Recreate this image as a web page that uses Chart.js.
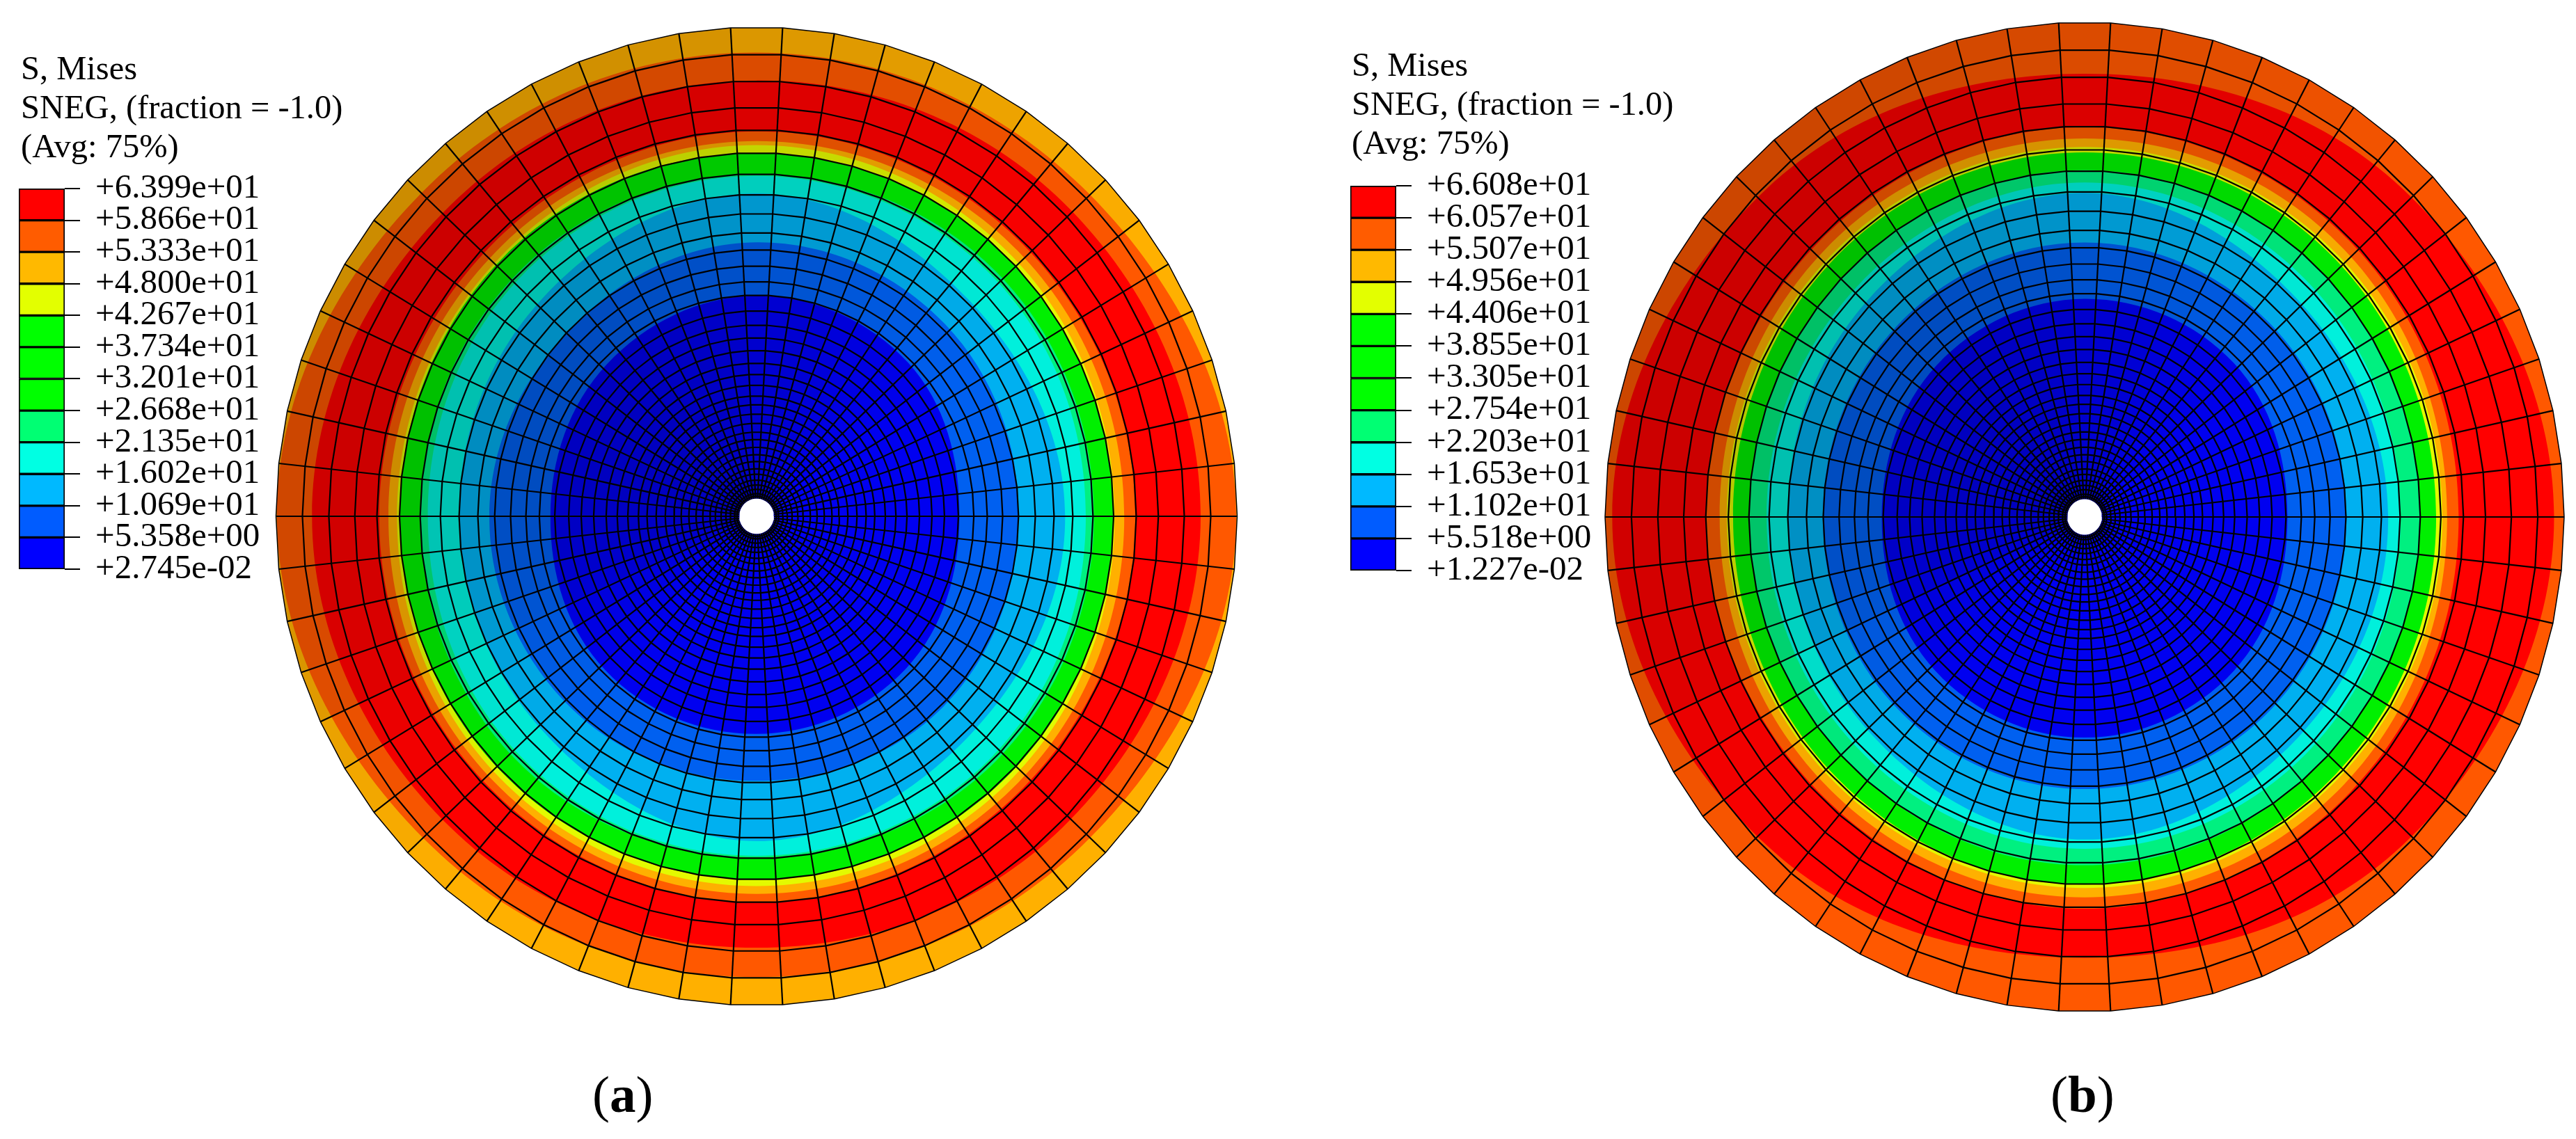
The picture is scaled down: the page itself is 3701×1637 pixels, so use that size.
<!DOCTYPE html>
<html>
<head>
<meta charset="utf-8">
<title>S, Mises contour plots</title>
<script src="https://cdn.jsdelivr.net/npm/chart.js@4"></script>
<style>
    html, body { margin: 0; padding: 0; background: #fff; overflow: hidden; }
    body { width: 3701px; height: 1637px; position: relative; }
    canvas { position: absolute; }
    .txt { position: absolute; font-family: "Liberation Serif", serif; color: #000; white-space: pre; }
    .head { font-size: 48.5px; line-height: 56px; }
    .cap { font-size: 75px; line-height: 75px; }
</style>
</head>
<body>
<canvas id="plotA" width="1410" height="1480" style="left:382px;top:2px"></canvas>
<canvas id="plotB" width="1410" height="1480" style="left:2290px;top:3px"></canvas>
<canvas id="legendA" width="368" height="607" style="left:25px;top:241px"></canvas>
<canvas id="legendB" width="368" height="613" style="left:1938px;top:237px"></canvas>

<div class="txt head" style="left:30px;top:70px">S, Mises
SNEG, (fraction = -1.0)
(Avg: 75%)</div>
<div class="txt head" style="left:1942px;top:65px">S, Mises
SNEG, (fraction = -1.0)
(Avg: 75%)</div>
<div class="txt cap" style="left:851px;top:1535px">(<b>a</b>)</div>
<div class="txt cap" style="left:2946px;top:1535px">(<b>b</b>)</div>

<script>
// Legend levels as printed on the two colour bars
const levelsA = [63.99, 58.66, 53.33, 48.00, 42.67, 37.34, 32.01, 26.68, 21.35, 16.02, 10.69, 5.358, 0.02745];
const labelsA = ['+6.399e+01', '+5.866e+01', '+5.333e+01', '+4.800e+01', '+4.267e+01', '+3.734e+01', '+3.201e+01',
    '+2.668e+01', '+2.135e+01', '+1.602e+01', '+1.069e+01', '+5.358e+00', '+2.745e-02'];
const levelsB = [66.08, 60.57, 55.07, 49.56, 44.06, 38.55, 33.05, 27.54, 22.03, 16.53, 11.02, 5.518, 0.01227];
const labelsB = ['+6.608e+01', '+6.057e+01', '+5.507e+01', '+4.956e+01', '+4.406e+01', '+3.855e+01', '+3.305e+01',
    '+2.754e+01', '+2.203e+01', '+1.653e+01', '+1.102e+01', '+5.518e+00', '+1.227e-02'];
const legendColors = ['#ff0000', '#ff5c00', '#ffb900', '#e3ff00', '#00ff00', '#00ff00', '#00ff00',
    '#00ff73', '#00ffe3', '#00b9ff', '#005cff', '#0000ff'];

// Mesh: ring radii as a fraction of the plate radius, outside to inside
const spokeCount = 58;
const holeRadius = 0.036;
const meshRings = [1, 0.945, 0.890, 0.836, 0.790, 0.743, 0.700, 0.658, 0.619, 0.580, 0.545, 0.512, 0.480, 0.452,
    0.420, 0.391, 0.365, 0.339, 0.313, 0.290, 0.268, 0.246, 0.228, 0.209, 0.190, 0.172, 0.157, 0.141, 0.126,
    0.112, 0.097, 0.086, 0.074, 0.064, 0.055, 0.046, 0.041];

// Darkening of each mesh sector, counter-clockwise from the +x direction
const sectorShade = [0, 0, 0, 0, 0, 0, 0.02, 0.03, 0.05, 0.07, 0.09, 0.11, 0.12, 0.13, 0.14, 0.16, 0.17, 0.18, 0.19, 0.19,
    0.2, 0.2, 0.2, 0.2, 0.2, 0.2, 0.2, 0.2, 0.19, 0.18, 0.17, 0.15, 0.12, 0.08, 0.05, 0.03, 0.01,
    0, 0, 0, 0, 0, 0, 0, 0, 0, 0, 0, 0, 0, 0, 0, 0, 0, 0, 0, 0, 0];

// Contour boundaries read at E, NE, N, NW, W, SW, S, SE (fraction of plate radius)
const boundaryAngles = [0, 45, 90, 135, 180, 225, 270, 315];

const discColorA = '#ffb000';
const bandColorsA = ['#ff5800', '#ff0000', '#ff5c00', '#ffb000', '#e3fa00', '#00f000', '#00f080', '#00f0dc', '#00b0f0', '#0060f0', '#0000f0'];
const bandsA = [
    [0.998, 0.955, 0.948, 0.960, 0.998, 0.955, 0.942, 0.955],
    [0.924, 0.905, 0.891, 0.900, 0.925, 0.900, 0.882, 0.900],
    [0.788, 0.785, 0.787, 0.782, 0.785, 0.785, 0.789, 0.785],
    [0.765, 0.768, 0.767, 0.766, 0.766, 0.770, 0.772, 0.770],
    [0.745, 0.752, 0.759, 0.752, 0.748, 0.756, 0.756, 0.755],
    [0.742, 0.743, 0.742, 0.747, 0.742, 0.745, 0.743, 0.745],
    [0.702, 0.706, 0.699, 0.703, 0.699, 0.706, 0.697, 0.706],
    [0.685, 0.694, 0.696, 0.693, 0.684, 0.694, 0.694, 0.694],
    [0.642, 0.625, 0.660, 0.630, 0.619, 0.625, 0.664, 0.630],
    [0.545, 0.555, 0.560, 0.545, 0.556, 0.550, 0.541, 0.550],
    [0.422, 0.445, 0.451, 0.440, 0.429, 0.445, 0.445, 0.440]
];

const discColorB = '#ff5800';
const bandColorsB = ['#ff0000', '#ff5c00', '#ffb000', '#e3fa00', '#00f000', '#00f080', '#00f0dc', '#00b0f0', '#0060f0', '#0000f0'];
const bandsB = [
    [0.979, 0.938, 0.896, 0.938, 0.985, 0.938, 0.891, 0.938],
    [0.780, 0.785, 0.788, 0.785, 0.789, 0.785, 0.792, 0.785],
    [0.756, 0.765, 0.765, 0.765, 0.761, 0.765, 0.769, 0.765],
    [0.746, 0.748, 0.748, 0.748, 0.746, 0.748, 0.750, 0.748],
    [0.733, 0.738, 0.737, 0.738, 0.733, 0.738, 0.743, 0.738],
    [0.699, 0.700, 0.701, 0.700, 0.699, 0.700, 0.704, 0.700],
    [0.659, 0.665, 0.676, 0.665, 0.663, 0.665, 0.671, 0.665],
    [0.633, 0.625, 0.655, 0.630, 0.619, 0.625, 0.652, 0.630],
    [0.546, 0.550, 0.555, 0.550, 0.546, 0.550, 0.550, 0.550],
    [0.423, 0.440, 0.441, 0.435, 0.423, 0.440, 0.446, 0.440]
];

function polar(r, deg) {
    const a = deg * Math.PI / 180;
    return { x: r * Math.cos(a), y: r * Math.sin(a) };
}

function spokeAngle(k) {
    return k * 360 / spokeCount;
}

// polygon through the spoke nodes of one ring
function ringPoints(r) {
    const pts = [];
    for (let k = 0; k <= spokeCount; k++) pts.push(polar(r, spokeAngle(k)));
    return pts;
}

// closed smooth contour; the ends overlap so the spline has no kink at the seam
function contourPoints(radii) {
    const n = radii.length;
    const pts = [];
    for (let i = -1; i <= n + 1; i++) {
        const j = (i + n) % n;
        pts.push(polar(radii[j], boundaryAngles[j] + (i < 0 ? -360 : i >= n ? 360 : 0)));
    }
    return pts;
}

function polygonSet(data, color, tension) {
    return { data, showLine: true, fill: 'shape', backgroundColor: color, borderWidth: 0, tension: tension || 0, pointRadius: 0 };
}

function lineSet(data, width) {
    return { data, showLine: true, fill: false, borderColor: '#000', borderWidth: width, tension: 0, pointRadius: 0 };
}

function drawPlot(canvasId, discColor, bandColors, bands, rx, ry) {
    // painter's order, first pushed ends up at the bottom
    const sets = [];
    sets.push(polygonSet(ringPoints(1), discColor));
    bands.forEach((radii, i) => sets.push(polygonSet(contourPoints(radii), bandColors[i], 0.375)));

    sectorShade.forEach((alpha, k) => {
        if (alpha > 0) {
            sets.push(polygonSet([{ x: 0, y: 0 }, polar(1, spokeAngle(k)), polar(1, spokeAngle(k + 1))], `rgba(0,0,0,${alpha})`));
        }
    });

    meshRings.forEach((r, i) => sets.push(lineSet(ringPoints(r), i === 0 ? 1.5 : 2.2)));
    for (let k = 0; k < spokeCount; k++) {
        sets.push(lineSet([polar(holeRadius, spokeAngle(k)), polar(1, spokeAngle(k))], 2.2));
    }
    sets.push(polygonSet(ringPoints(holeRadius), '#fff'));

    const canvas = document.getElementById(canvasId);
    new Chart(canvas.getContext('2d'), {
        type: 'scatter',
        data: { datasets: sets.reverse() },
        options: {
            responsive: false,
            animation: false,
            events: [],
            layout: { padding: 0 },
            plugins: { legend: { display: false }, tooltip: { enabled: false } },
            scales: {
                x: { type: 'linear', display: false, min: -canvas.width / 2 / rx, max: canvas.width / 2 / rx },
                y: { type: 'linear', display: false, min: -canvas.height / 2 / ry, max: canvas.height / 2 / ry }
            }
        }
    });
}

function drawLegend(canvasId, levels, labels) {
    new Chart(document.getElementById(canvasId).getContext('2d'), {
        type: 'bar',
        data: {
            labels: ['S, Mises'],
            datasets: legendColors.map((color, i) => ({
                data: [[levels[i + 1], levels[i]]],
                backgroundColor: color,
                borderColor: '#000',
                borderWidth: 2,
                borderSkipped: false,
                grouped: false,
                barPercentage: 1,
                categoryPercentage: 1
            }))
        },
        options: {
            responsive: false,
            animation: false,
            events: [],
            layout: { padding: { left: 2, top: 30, bottom: 30, right: 0 } },
            plugins: { legend: { display: false }, tooltip: { enabled: false } },
            scales: {
                x: { display: false },
                y: {
                    position: 'right',
                    min: levels[levels.length - 1],
                    max: levels[0],
                    border: { display: false },
                    grid: { drawOnChartArea: false, drawTicks: true, tickLength: 22, color: '#000', lineWidth: 2 },
                    afterBuildTicks: scale => {
                        scale.ticks = levels.slice().reverse().map(v => ({ value: v }));
                    },
                    afterFit: scale => {
                        // keep the bar at its full height, the labels may overhang
                        scale.width = 300;
                        scale.paddingTop = 0;
                        scale.paddingBottom = 0;
                    },
                    ticks: {
                        autoSkip: false,
                        maxRotation: 0,
                        padding: 22,
                        color: '#000',
                        font: { family: '"Liberation Serif", serif', size: 49 },
                        callback: value => labels[levels.indexOf(value)]
                    }
                }
            }
        }
    });
}

drawPlot('plotA', discColorA, bandColorsA, bandsA, 690.5, 703);
drawPlot('plotB', discColorB, bandColorsB, bandsB, 689, 711);
drawLegend('legendA', levelsA, labelsA);
drawLegend('legendB', levelsB, labelsB);
</script>
</body>
</html>
